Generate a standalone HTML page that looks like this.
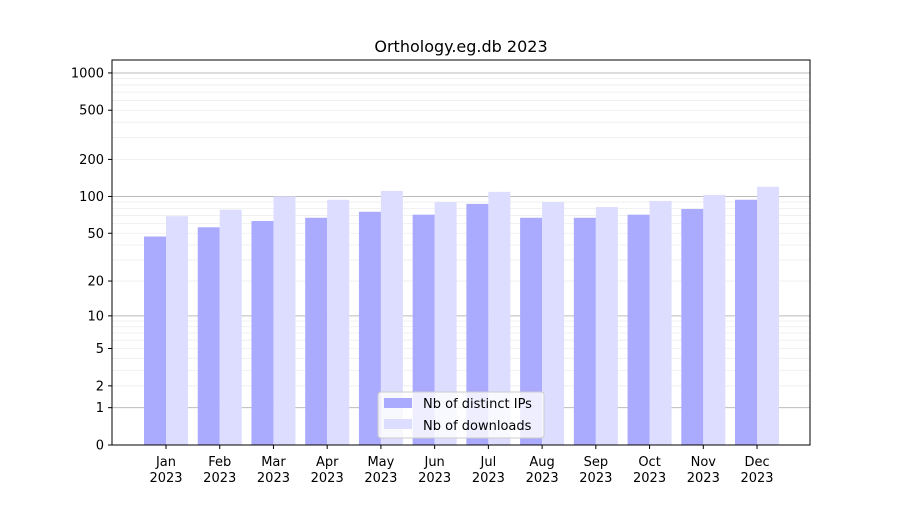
<!DOCTYPE html>
<html><head><meta charset="utf-8"><style>
body{margin:0;background:#fff;}
svg text{font-family:"DejaVu Sans","Liberation Sans",sans-serif;}
</style></head><body>
<svg width="900" height="500" xmlns="http://www.w3.org/2000/svg">
<rect width="900" height="500" fill="#fff"/>
<text x="461" y="52" text-anchor="middle" font-size="16" fill="#000">Orthology.eg.db 2023</text>
<g id="grid"></g>
<g id="bars"></g>
<rect x="112" y="60" width="698" height="385" fill="none" stroke="#000" stroke-width="1"/>
<g id="yaxis"></g>
<g id="xaxis"></g>
<g>
<rect x="378" y="392" width="166" height="46" rx="3" fill="#fff" fill-opacity="0.8" stroke="#ccc"/>
<rect x="384" y="398" width="28" height="10" fill="#aaaaff"/>
<text x="423" y="408" font-size="13">Nb of distinct IPs</text>
<rect x="384" y="419" width="28" height="10" fill="#ddddff"/>
<text x="423" y="430" font-size="13">Nb of downloads</text>
</g>
</svg>
<script>
const months=["Jan","Feb","Mar","Apr","May","Jun","Jul","Aug","Sep","Oct","Nov","Dec"];
const ips=[47,56,63,67,75,71,87,67,67,71,79,94];
const downloads=[69,78,100,94,111,90,109,90,82,92,103,120];
const yTicks=[0,1,2,5,10,20,50,100,200,500,1000];
const NS="http://www.w3.org/2000/svg";
function y(v){return 445-124*Math.log10(1+v);}
function x(i){return 166+i*53.73;}
function mk(tag,attrs,parent){const e=document.createElementNS(NS,tag);for(const k in attrs)e.setAttribute(k,attrs[k]);parent.appendChild(e);return e;}
const grid=document.getElementById('grid');
for(let d=1;d<=1000;d*=10){for(let m=1;m<10;m++){const v=m*d;if(v>1270)break;
const l=mk('line',{x1:112,x2:810,y1:y(v),y2:y(v),stroke:m===1?'#bbb':'#eee','stroke-width':m===1?1:0.8},grid);

}}
const bars=document.getElementById('bars');
months.forEach((m,i)=>{
const b1=mk('rect',{x:x(i)-22,y:y(ips[i]),width:22,height:445-y(ips[i]),fill:'#aaaaff'},bars);


const b2=mk('rect',{x:x(i),y:y(downloads[i]),width:22,height:445-y(downloads[i]),fill:'#ddddff'},bars);


});
const ya=document.getElementById('yaxis');
yTicks.forEach(v=>{
mk('line',{x1:108,x2:112,y1:y(v),y2:y(v),stroke:'#000'},ya);
const t=mk('text',{x:104,y:y(v)+4.5,'text-anchor':'end','font-size':13},ya);
t.textContent=v;


});
const xa=document.getElementById('xaxis');
months.forEach((m,i)=>{
mk('line',{x1:x(i),x2:x(i),y1:445,y2:449,stroke:'#000'},xa);
const t=mk('text',{x:x(i),y:466,'text-anchor':'middle','font-size':13},xa);
t.textContent=m;


const t2=mk('text',{x:x(i),y:482,'text-anchor':'middle','font-size':13},xa);
t2.textContent='2023';


});
</script>
</body></html>
